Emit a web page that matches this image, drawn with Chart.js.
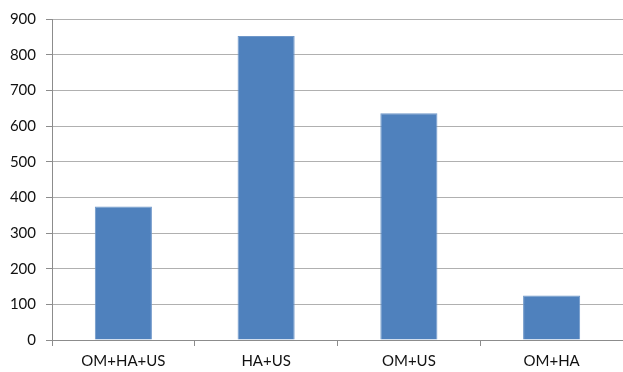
<!DOCTYPE html>
<html>
<head>
<meta charset="utf-8">
<script src="https://cdn.jsdelivr.net/npm/chart.js@4.4.1/dist/chart.umd.min.js"></script>
<style>
  html, body { margin: 0; padding: 0; background: #fff; }
  #wrap { width: 623px; height: 372px; }
</style>
</head>
<body>
<div id="wrap"><canvas id="myChart"></canvas></div>
<script>
const categories = ["OM+HA+US", "HA+US", "OM+US", "OM+HA"];
const values = [374, 852, 636, 125];
const yTicks = [0, 100, 200, 300, 400, 500, 600, 700, 800, 900];

const ctx = document.getElementById("myChart");

new Chart(ctx, {
  type: "bar",
  data: {
    labels: categories,
    datasets: [
      {
        data: values,
        backgroundColor: "#4f81bd",
        borderColor: "#6f97c9",
        borderWidth: 1,
        barPercentage: 0.4,
        categoryPercentage: 1,
      },
    ],
  },
  options: {
    responsive: true,
    maintainAspectRatio: false,
    animation: false,
    layout: {
      padding: { top: 8, right: 0, left: 0, bottom: 0 },
    },
    plugins: {
      legend: { display: false },
      tooltip: { enabled: false },
    },
    scales: {
      x: {
        grid: {
          display: true,
          drawOnChartArea: false,
          drawTicks: true,
          tickLength: 6,
          color: "#8c8c8c",
        },
        border: { color: "#8c8c8c" },
        ticks: {
          color: "#111",
          font: { family: "Lato", size: 15 },
          padding: 6,
          maxRotation: 0,
        },
        afterFit: (scale) => {
          scale.height = 32;
        },
      },
      y: {
        min: yTicks[0],
        max: yTicks[yTicks.length - 1],
        afterBuildTicks: (scale) => {
          scale.ticks = yTicks.map((v) => ({ value: v }));
        },
        grid: {
          color: "#b0b0b0",
          tickLength: 6,
          tickColor: "#8c8c8c",
        },
        border: { color: "#8c8c8c" },
        ticks: {
          color: "#111",
          font: { family: "Lato", size: 15 },
          padding: 10,
        },
        afterFit: (scale) => {
          scale.width = 52;
        },
      },
    },
  },
});
</script>
</body>
</html>
